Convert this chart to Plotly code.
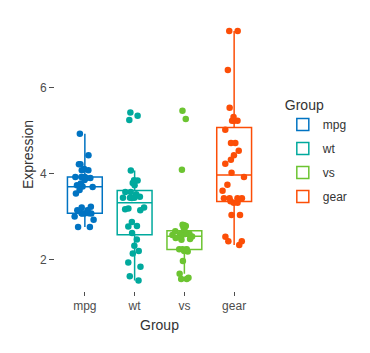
import numpy as np
import plotly.graph_objects as go

groups = ["mpg", "wt", "vs", "gear"]
colors = ["#0073C2", "#00A99D", "#6CC431", "#FC4E07"]

mpg = [3.90, 3.90, 3.85, 3.08, 3.15, 2.76, 3.21, 3.69, 3.92, 3.92, 3.92, 3.07, 3.07, 3.07,
       2.93, 3.00, 3.23, 4.08, 4.93, 4.22, 3.70, 2.76, 3.15, 3.73, 3.08, 4.08, 4.43, 3.77,
       4.22, 3.62, 3.54, 4.11]
wt = [2.620, 2.875, 2.320, 3.215, 3.440, 3.460, 3.570, 3.190, 3.150, 3.440, 3.440, 4.070,
      3.730, 3.780, 5.250, 5.424, 5.345, 2.200, 1.615, 1.835, 2.465, 3.520, 3.435, 3.840,
      3.845, 1.935, 2.140, 1.513, 3.170, 2.770, 3.570, 2.780]
vs = [5.46, 5.27, 4.09, 2.81, 2.80, 2.78, 2.76, 2.70, 2.66, 2.62, 2.61, 2.60, 2.59, 2.58,
      2.57, 2.55, 2.54, 2.52, 2.50, 2.48, 2.46, 2.24, 2.24, 2.24, 2.23, 2.20, 2.19, 1.97,
      1.67, 1.58, 1.55, 1.55]
gear = [7.32, 7.32, 6.41, 5.53, 5.32, 5.23, 5.23, 5.23, 5.02, 4.71, 4.71, 4.53, 4.43, 4.32,
        4.23, 4.02, 3.92, 3.74, 3.60, 3.43, 3.43, 3.43, 3.43, 3.36, 3.32, 3.32, 3.04, 3.04,
        2.53, 2.43, 2.43, 2.34]
series = [mpg, wt, vs, gear]
y_ticks = [2, 4, 6]

FONT = "Liberation Sans, Arial, sans-serif"
fig = go.Figure()

for i, (name, vals, col) in enumerate(zip(groups, series, colors)):
    pos = i + 1
    v = np.array(vals)
    q1, med, q3 = np.percentile(v, [25, 50, 75])
    iqr = q3 - q1
    lo = v[v >= q1 - 1.5 * iqr].min()
    hi = v[v <= q3 + 1.5 * iqr].max()
    # box (ggplot style stats)
    fig.add_trace(go.Box(
        x=[pos], q1=[q1], median=[med], q3=[q3], lowerfence=[lo], upperfence=[hi],
        name=name, legendgroup=name, width=0.7, whiskerwidth=0,
        fillcolor="rgba(0,0,0,0)", line=dict(color=col, width=1.5),
        boxpoints=False, showlegend=True,
    ))
    # jittered points
    fig.add_trace(go.Box(
        x=[pos] * len(vals), y=vals, name=name, legendgroup=name, width=0.7,
        boxpoints="all", jitter=0.8, pointpos=0,
        fillcolor="rgba(0,0,0,0)", line=dict(color="rgba(0,0,0,0)", width=0),
        marker=dict(color=col, size=6.5, line=dict(width=0)),
        showlegend=False,
    ))

fig.update_layout(
    width=370, height=353,
    margin=dict(l=55, r=106, t=18, b=62),
    plot_bgcolor="white", paper_bgcolor="white",
    boxmode="overlay",
    font=dict(family=FONT, color="#4D4D4D", size=11),
    showlegend=True,
    legend=dict(
        title=dict(text="Group", font=dict(size=14, color="#333333")),
        x=1.09, y=0.73, xanchor="left", yanchor="top",
        font=dict(size=12, color="#333333"),
        tracegroupgap=5, bgcolor="rgba(0,0,0,0)",
    ),
    xaxis=dict(
        range=[0.4, 4.6], tickvals=[1, 2, 3, 4], ticktext=groups,
        showgrid=False, zeroline=False, showline=False,
        ticks="outside", ticklen=4, tickcolor="#4D4D4D", tickwidth=1,
        tickfont=dict(size=12, color="#4D4D4D"),
        title=dict(text="Group", font=dict(size=14, color="#333333"), standoff=7),
    ),
    yaxis=dict(
        range=[1.27, 7.62], tickvals=y_ticks,
        showgrid=False, zeroline=False, showline=False,
        ticks="outside", ticklen=5, tickcolor="#4D4D4D", tickwidth=1,
        tickfont=dict(size=12, color="#4D4D4D"),
        title=dict(text="Expression", font=dict(size=14, color="#333333"), standoff=3),
    ),
)

fig.write_html("out.html")
